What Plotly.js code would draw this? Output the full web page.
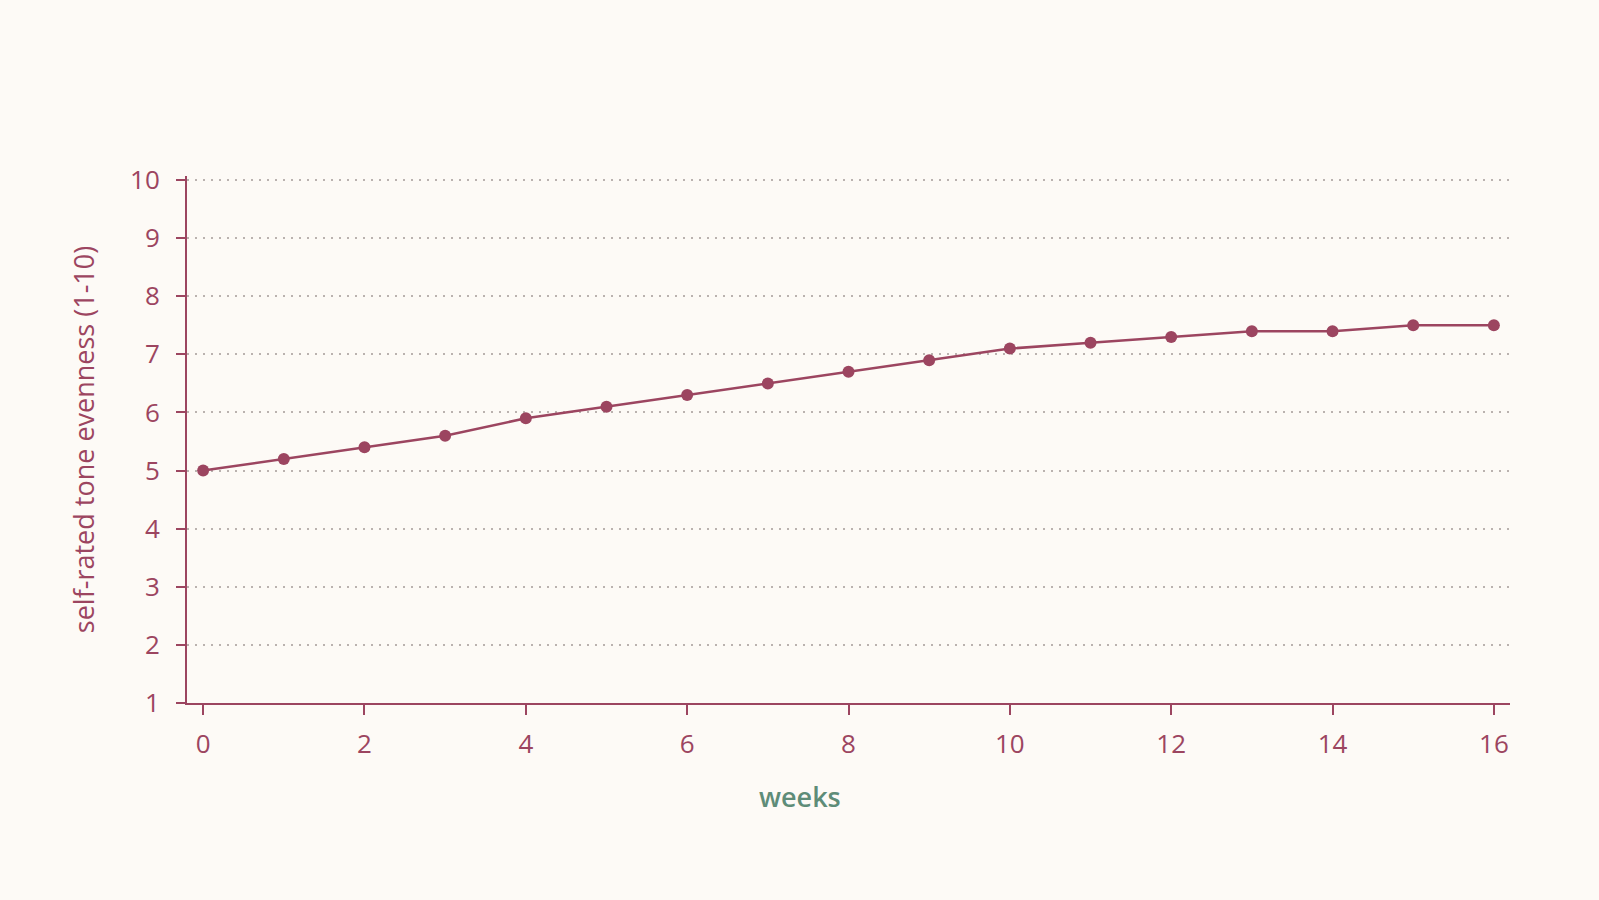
<!DOCTYPE html>
<html>
<head>
<meta charset="utf-8">
<script src="https://cdn.plot.ly/plotly-3.0.1.min.js"></script>
<style>
  html, body { margin: 0; padding: 0; background: #fdfaf6; }
  #chart { width: 1599px; height: 900px; }
</style>
</head>
<body>
<div id="chart"></div>
<script>
var weeks = [0, 1, 2, 3, 4, 5, 6, 7, 8, 9, 10, 11, 12, 13, 14, 15, 16];
var evenness = [5.0, 5.2, 5.4, 5.6, 5.9, 6.1, 6.3, 6.5, 6.7, 6.9, 7.1, 7.2, 7.3, 7.4, 7.4, 7.5, 7.5];
var yTicks = [1, 2, 3, 4, 5, 6, 7, 8, 9, 10];
var xTicks = [0, 2, 4, 6, 8, 10, 12, 14, 16];

var wine = '#9c4560';
var green = '#5e8c78';

var data = [{
  x: weeks,
  y: evenness,
  type: 'scatter',
  mode: 'lines+markers',
  line: {color: wine, width: 2.5},
  marker: {color: wine, size: 12},
  hoverinfo: 'x+y'
}];

var layout = {
  width: 1599,
  height: 900,
  paper_bgcolor: '#fdfaf6',
  plot_bgcolor: '#fdfaf6',
  font: {family: '"Open Sans", sans-serif', color: wine},
  margin: {l: 187, r: 89, t: 176, b: 197},
  showlegend: false,
  xaxis: {
    range: [-0.2, 16.2],
    tickvals: xTicks,
    showgrid: false,
    zeroline: false,
    showline: true,
    linecolor: wine,
    linewidth: 2,
    ticks: 'outside',
    ticklen: 10,
    tickwidth: 1.5,
    tickcolor: wine,
    tickfont: {size: 26, color: wine, weight: 500},
    ticklabelstandoff: 7
  },
  yaxis: {
    range: [1, 10.07],
    tickvals: yTicks,
    showgrid: true,
    gridcolor: '#bab2af',
    griddash: '1.5px,6.5px',
    gridwidth: 1.5,
    zeroline: false,
    showline: true,
    linecolor: wine,
    linewidth: 2,
    ticks: 'outside',
    ticklen: 9,
    tickwidth: 1.5,
    tickcolor: wine,
    tickfont: {size: 26, color: wine, weight: 500},
    ticklabelstandoff: 11,
    title: {text: 'self-rated tone evenness (1-10)', font: {size: 27, color: wine, weight: 500}, standoff: 28}
  },
  annotations: [{
    // x title sits left of the plot centre in the original
    text: 'weeks',
    xref: 'paper', yref: 'paper',
    x: 0.463, y: -0.1765,
    xanchor: 'center', yanchor: 'middle',
    showarrow: false,
    font: {size: 27, color: green, weight: 600}
  }]
};

Plotly.newPlot('chart', data, layout, {displayModeBar: false});
</script>
</body>
</html>
